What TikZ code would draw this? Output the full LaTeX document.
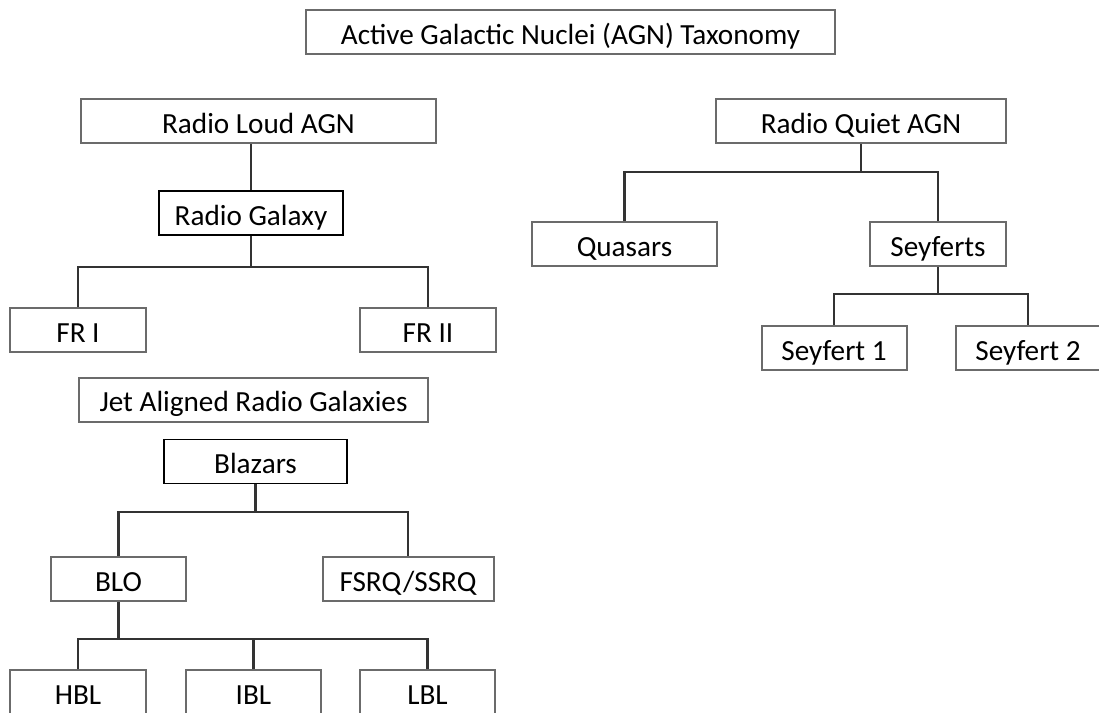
\documentclass[tikz,border=0pt]{standalone}
\usepackage{fontspec}
\setmainfont{Carlito}
\usepackage{tikz}

\begin{document}
\begin{tikzpicture}[
  x=0.5pt, y=-0.5pt,
  classbox/.style={rectangle, draw=black!58, line width=1pt, inner sep=0pt, minimum height=22pt, text height=12pt, text depth=0pt, font=\fontsize{14.6}{17}\selectfont, text=black},
  typebox/.style={classbox, draw=black, line width=0.8pt},
  link/.style={draw=black!80, line width=1.05pt},
]
\useasboundingbox (0,0) rectangle (1099,713);

% Title
\node[classbox, minimum width=264.5pt] (agn) at (570.5,32) {Active Galactic Nuclei (AGN) Taxonomy};

% Radio loud branch
\node[classbox, minimum width=177.5pt] (rla) at (258.5,121) {Radio Loud AGN};
\node[typebox, minimum width=92pt] (rgal) at (251,213) {Radio Galaxy};
\node[classbox, minimum width=68pt] (fr1) at (78,330) {FR I};
\node[classbox, minimum width=68pt] (fr2) at (428,330) {FR II};

% Jet aligned sources
\node[classbox, minimum width=174.5pt] (jet) at (253.5,399.5) {Jet Aligned Radio Galaxies};
\node[typebox, minimum width=91.5pt] (blz) at (255.5,461.5) {Blazars};
\node[classbox, minimum width=67.5pt] (blo) at (118.5,579) {BLO};
\node[classbox, minimum width=85.5pt] (fsrq) at (408,579) {FSRQ/SSRQ};
\node[classbox, minimum width=68pt] (hbl) at (78,692) {HBL};
\node[classbox, minimum width=67.5pt] (ibl) at (253.5,692) {IBL};
\node[classbox, minimum width=67.5pt] (lbl) at (427.5,692) {LBL};

% Radio quiet branch
\node[classbox, minimum width=145pt] (rqa) at (861,121) {Radio Quiet AGN};
\node[classbox, minimum width=92.5pt] (qso) at (624.5,244) {Quasars};
\node[classbox, minimum width=68pt] (sey) at (938,244) {Seyferts};
\node[classbox, minimum width=72.5pt] (sey1) at (834,348) {Seyfert 1};
\node[classbox, minimum width=72pt] (sey2) at (1028,348) {Seyfert 2};

% Connectors
\draw[link] (rgal.north) -- (rgal.north |- rla.south);
\draw[link] (rgal.south) -- ++(0,31) coordinate (rgfork);
\draw[link] (fr1.north) |- (rgfork) -| (fr2.north);

\draw[link] (blz.south) -- ++(0,28) coordinate (blzfork);
\draw[link] (blo.north) |- (blzfork) -| (fsrq.north);
\draw[link] (blo.south) -- ++(0,37) coordinate (blofork);
\draw[link] (hbl.north) |- (blofork) -| (lbl.north);
\draw[link] (ibl.north) -- (ibl.north |- blofork);

\draw[link] (rqa.south) -- ++(0,28) coordinate (rqafork);
\draw[link] (qso.north) |- (rqafork) -| (sey.north);
\draw[link] (sey.south) -- ++(0,27) coordinate (seyfork);
\draw[link] (sey1.north) |- (seyfork) -| (sey2.north);
\end{tikzpicture}
\end{document}
